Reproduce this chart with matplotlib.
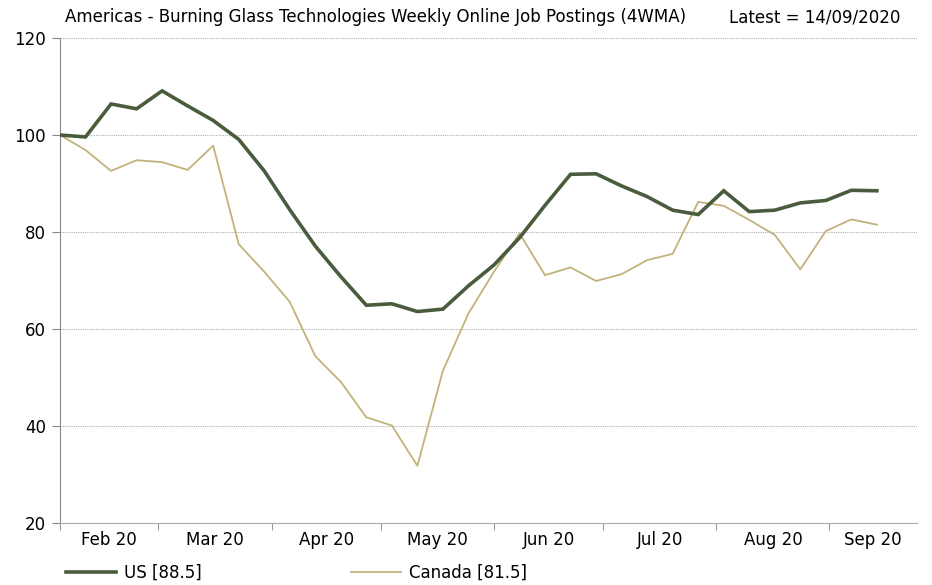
import numpy as np
import pandas as pd
import matplotlib
matplotlib.use("Agg")
import matplotlib.pyplot as plt
import matplotlib.dates as mdates
from matplotlib.lines import Line2D

# weekly dates, last = 14/09/2020
dates = pd.date_range(end="2020-09-14", periods=33, freq="7D")

us = [100.0, 99.6, 106.4, 105.4, 109.1, 106.0, 103.0, 99.1, 92.6, 84.6,
      77.1, 70.8, 64.9, 65.2, 63.6, 64.1, 68.9, 73.2, 78.8, 85.5,
      91.9, 92.0, 89.5, 87.3, 84.5, 83.6, 88.5, 84.2, 84.5, 86.0,
      86.5, 88.6, 88.5]
canada = [100.0, 96.9, 92.6, 94.8, 94.4, 92.8, 97.8, 77.5, 71.8, 65.6,
          54.4, 49.1, 41.8, 40.1, 31.8, 51.4, 63.2, 71.8, 79.7, 71.1,
          72.7, 69.9, 71.3, 74.2, 75.5, 86.2, 85.4, 82.5, 79.4, 72.3,
          80.2, 82.6, 81.5]

title_left = "Americas - Burning Glass Technologies Weekly Online Job Postings (4WMA)"
title_right = "Latest = 14/09/2020"
yticks = [20, 40, 60, 80, 100, 120]

us_col = "#4A5C3E"
ca_col = "#C2B27C"

plt.rcParams["font.family"] = ["DejaVu Sans"]

fig = plt.figure(figsize=(9.32, 5.85), dpi=100)
ax = fig.add_axes([60 / 932, 1 - 523 / 585, (917 - 60) / 932, (523 - 38) / 585])

ax.plot(dates, us, color=us_col, lw=2.6, solid_joinstyle="miter", zorder=3)
ax.plot(dates, canada, color=ca_col, lw=1.3, zorder=2)

x0 = dates[0]
x1 = pd.Timestamp("2020-09-25")
ax.set_xlim(x0, x1)
ax.set_ylim(20, 120)

# y axis
ax.set_yticks(yticks)
ax.tick_params(axis="y", length=6, color="#888888", labelsize=12, pad=4)
for y in yticks[1:]:
    ax.axhline(y, color="#b0b0b0", lw=0.8, ls=(0, (1, 1)), zorder=1)

# x axis: ticks at month boundaries, labels centred in each month
bounds = [x0] + list(pd.date_range("2020-03-01", "2020-09-01", freq="MS")) + [x1]
ax.set_xticks(bounds[:-1])
ax.set_xticklabels([])
mids = [a + (b - a) / 2 for a, b in zip(bounds[:-1], bounds[1:])]
ax.set_xticks(mids, minor=True)
ax.set_xticklabels([d.strftime("%b %y") for d in mids], minor=True)
ax.tick_params(axis="x", which="major", length=5, color="#999999")
ax.tick_params(axis="x", which="minor", length=0, labelsize=12, pad=6)

for s in ["top", "right"]:
    ax.spines[s].set_visible(False)
ax.spines["left"].set_color("#888888")
ax.spines["bottom"].set_color("#aaaaaa")

fig.text(65 / 932, 1 - 17 / 585, title_left, fontsize=12, va="center", ha="left")
fig.text(900 / 932, 1 - 17 / 585, title_right, fontsize=12, va="center", ha="right")

handles = [Line2D([], [], color=us_col, lw=2.6), Line2D([], [], color=ca_col, lw=1.3)]
fig.legend(handles, ["US [88.5]", "Canada [81.5]"], loc="center left",
           bbox_to_anchor=(66 / 932, 1 - 573 / 585), ncol=2, frameon=False,
           fontsize=12, handlelength=3.0, handletextpad=0.45, columnspacing=9.0,
           borderpad=0, borderaxespad=0)

fig.savefig("out.png", dpi=100)
